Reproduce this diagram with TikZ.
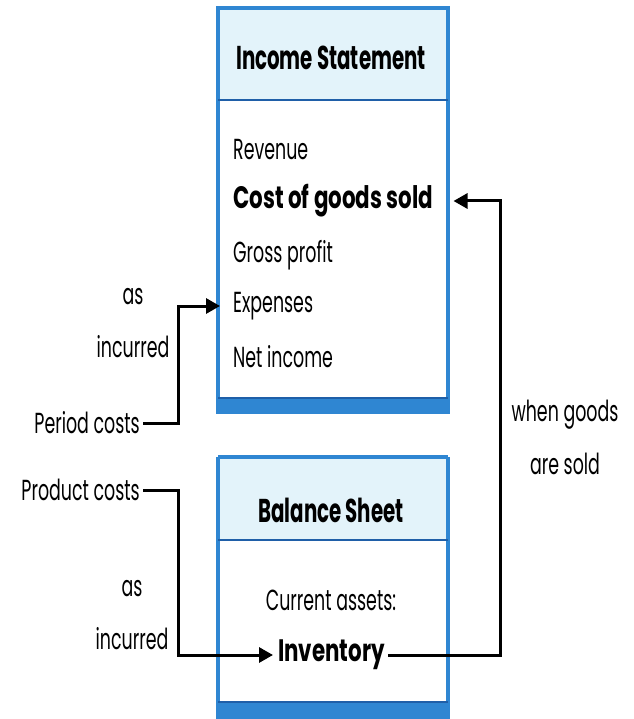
\documentclass[tikz,border=0pt]{standalone}
\usepackage{fontspec}
\setmainfont{Poppins}[FakeStretch=0.6]
\newfontfamily\wideface{Poppins}[FakeStretch=0.69]
\usetikzlibrary{arrows.meta,positioning}
\definecolor{sheetblue}{HTML}{2F86D2}
\definecolor{headblue}{HTML}{E3F3FA}
\definecolor{rimblue}{HTML}{1F5FA8}
\tikzset{
    >={Triangle[length=14pt,width=15pt]},
    head/.style={inner sep=0pt,font=\fontsize{33}{36}\selectfont\bfseries},
    item/.style={anchor=west,inner sep=0pt,font=\fontsize{29}{32}\selectfont},
    keyitem/.style={item,font=\fontsize{31}{34}\selectfont\wideface\bfseries},
    note/.style={inner sep=0pt,align=center,font=\fontsize{29}{53}\selectfont},
    flow/.style={line width=3pt}
}

\begin{document}
\begin{tikzpicture}[x=1pt,y=-1pt]
    \useasboundingbox (0,0) rectangle (633,719);

    % income statement
    \fill[headblue] (218,8) rectangle (448,100);
    \fill[sheetblue] (218,398) rectangle (448,412);
    \draw[sheetblue,line width=3.5pt] (218,8) rectangle (448,412);
    \draw[rimblue,line width=2pt] (218,100) -- (448,100);
    \draw[rimblue,line width=1.5pt] (218,398) -- (448,398);
    \node[head] (inc) at (331,58) {Income Statement};
    \node[item] (rev) at (233,150) {Revenue};
    \node[keyitem] (cogs) at (233,201) {Cost of goods sold};
    \node[item] (gross) at (233,255) {Gross profit};
    \node[item] (exp) at (233,306) {Expenses};
    \node[item] (net) at (233,357) {Net income};

    % balance sheet
    \fill[headblue] (218,457) rectangle (448,540);
    \fill[sheetblue] (218,702) rectangle (448,719);
    \draw[sheetblue,line width=3.5pt] (218,457) -- (218,719) (448,457) -- (448,719) (218,457) -- (448,457);
    \draw[rimblue,line width=2pt] (218,540) -- (448,540);
    \draw[rimblue,line width=1.5pt] (218,702) -- (448,702);
    \node[head] (bal) at (331,510) {Balance Sheet};
    \node[item,anchor=center] (cur) at (331,600) {Current assets:};
    \node[keyitem] (inv) at (278,655) {Inventory};

    % costs
    \node[item,anchor=east] (period) at (140,423) {Period costs};
    \node[item,anchor=east] (prod) at (140,490) {Product costs};
    \node[note] (asinc1) at (133,323) {as\\incurred};
    \node[note] (asinc2) at (132,615) {as\\incurred};
    \node[note] (sold) at (565,437) {when goods\\are sold};

    \coordinate (lcol) at (178,0);
    \coordinate (rcol) at (500,0);
    \draw[flow,->] (period.east) ++(3pt,0) -- (period.east -| lcol) |- ([xshift=-13pt]exp.west);
    \draw[flow,->] (prod.east) ++(3pt,0) -- (prod.east -| lcol) |- ([xshift=-5pt]inv.west);
    \draw[flow,->] ([xshift=3pt]inv.east) -- (inv.east -| rcol) |- ([xshift=20pt]cogs.east);
\end{tikzpicture}
\end{document}
